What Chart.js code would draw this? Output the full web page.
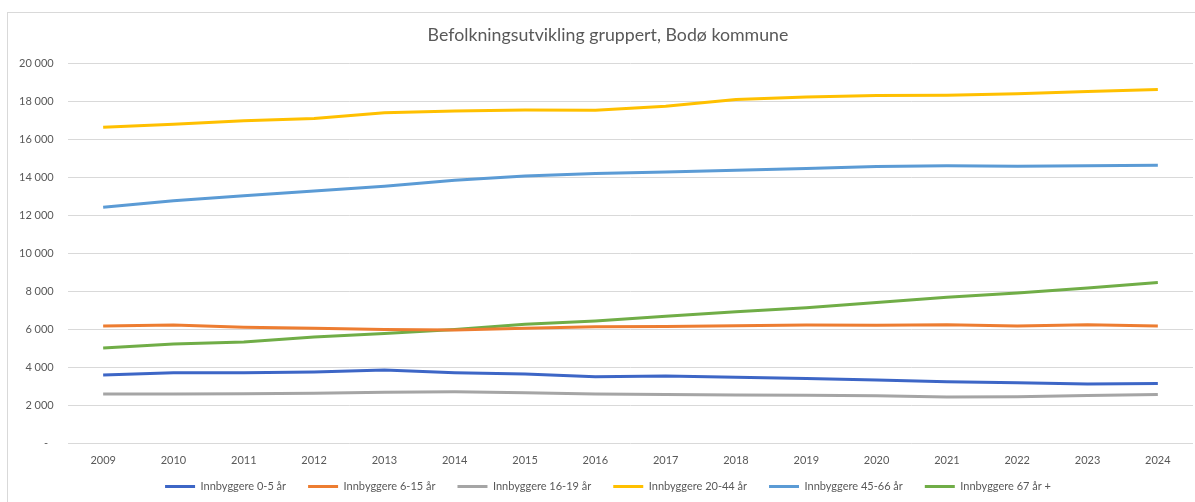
<!DOCTYPE html>
<html lang="no">
<head>
<meta charset="utf-8">
<title>Befolkningsutvikling gruppert, Bodø kommune</title>
<script src="https://cdn.jsdelivr.net/npm/chart.js@4/dist/chart.umd.min.js"></script>
<style>
  html, body { margin: 0; padding: 0; background: #fff; }
  #wrap { position: relative; width: 1195px; height: 502px; overflow: hidden; }
  #frame { position: absolute; left: 7px; top: 12px; width: 1200px; height: 500px; border: 1px solid #d9d9d9; box-sizing: border-box; }
  #chart { position: absolute; left: 0; top: 0; }
</style>
</head>
<body>
<div id="wrap">
  <div id="frame"></div>
  <canvas id="chart" width="1195" height="502"></canvas>
</div>
<script>
  var years = ['2009', '2010', '2011', '2012', '2013', '2014', '2015', '2016',
               '2017', '2018', '2019', '2020', '2021', '2022', '2023', '2024'];

  var age0to5 = [3580, 3700, 3700, 3740, 3840, 3700, 3630, 3490, 3530, 3460, 3400, 3320, 3230, 3180, 3110, 3140];
  var age6to15 = [6160, 6210, 6100, 6050, 5980, 5950, 6040, 6120, 6140, 6170, 6210, 6200, 6230, 6160, 6230, 6160];
  var age16to19 = [2580, 2580, 2590, 2620, 2670, 2700, 2650, 2580, 2560, 2530, 2510, 2490, 2420, 2440, 2500, 2560];
  var age20to44 = [16630, 16790, 16980, 17090, 17400, 17490, 17540, 17530, 17740, 18090, 18230, 18300, 18320, 18400, 18520, 18620];
  var age45to66 = [12420, 12760, 13020, 13270, 13530, 13840, 14070, 14190, 14280, 14370, 14460, 14560, 14610, 14580, 14610, 14630];
  var age67plus = [5000, 5210, 5320, 5580, 5770, 5980, 6250, 6420, 6670, 6910, 7120, 7400, 7680, 7900, 8170, 8460];

  var seriesNames = ['Innbyggere 0-5 år', 'Innbyggere 6-15 år', 'Innbyggere 16-19 år',
                     'Innbyggere 20-44 år', 'Innbyggere 45-66 år', 'Innbyggere 67 år +'];
  var seriesColors = ['#3d66c6', '#ed7d31', '#a5a5a5', '#ffc000', '#5b9bd5', '#70ad47'];
  var seriesValues = [age0to5, age6to15, age16to19, age20to44, age45to66, age67plus];

  var textColor = '#595959';
  var fontFamily = 'Lato, "Open Sans", sans-serif';

  function spaced(v) {
    if (v === 0) return '-  ';
    return String(v).replace(/\B(?=(\d{3})+(?!\d))/g, ' ');
  }

  // pull the legend row up a little so it sits close under the year labels
  var legendNudge = {
    id: 'legendNudge',
    afterLayout: function (chart) {
      if (!chart.legend) return;
      chart.legend.top -= 9;
      chart.legend.bottom -= 9;
    },
  };

  var datasets = seriesNames.map(function (name, i) {
    return {
      label: name,
      data: seriesValues[i],
      borderColor: seriesColors[i],
      backgroundColor: seriesColors[i],
      borderWidth: 3,
      pointRadius: 0,
      pointHoverRadius: 0,
      tension: 0,
      fill: false,
    };
  });

  new Chart(document.getElementById('chart'), {
    type: 'line',
    data: { labels: years, datasets: datasets },
    plugins: [legendNudge],
    options: {
      responsive: false,
      animation: false,
      layout: { padding: { top: 12, left: 23, right: 2, bottom: 0 } },
      plugins: {
        title: {
          display: true,
          text: 'Befolkningsutvikling gruppert, Bodø kommune',
          color: textColor,
          font: { family: fontFamily, size: 17.75, weight: 'normal' },
          padding: { top: 13, bottom: 17 },
        },
        legend: {
          position: 'bottom',
          maxHeight: 34,
          labels: {
            color: textColor,
            font: { family: fontFamily, size: 11 },
            usePointStyle: true,
            pointStyle: 'line',
            pointStyleWidth: 30,
            padding: 22,
          },
        },
        tooltip: { enabled: false },
      },
      scales: {
        x: {
          offset: true,
          grid: { display: false, drawTicks: false },
          border: { display: false },
          ticks: {
            color: textColor,
            font: { family: fontFamily, size: 11 },
            padding: 11,
            maxRotation: 0,
            autoSkip: false,
          },
          afterFit: function (scale) { scale.height = 25; },
        },
        y: {
          min: 0,
          max: 20000,
          grid: { color: '#d9d9d9', lineWidth: 1, drawTicks: false },
          border: { display: false },
          ticks: {
            stepSize: 2000,
            color: textColor,
            font: { family: fontFamily, size: 11 },
            // mirrored + far alignment keeps the labels right-aligned left of the plot
            mirror: true,
            crossAlign: 'far',
            padding: -49,
            callback: function (v) { return spaced(v); },
          },
          afterFit: function (scale) { scale.width = 45; },
        },
      },
    },
  });
</script>
</body>
</html>
